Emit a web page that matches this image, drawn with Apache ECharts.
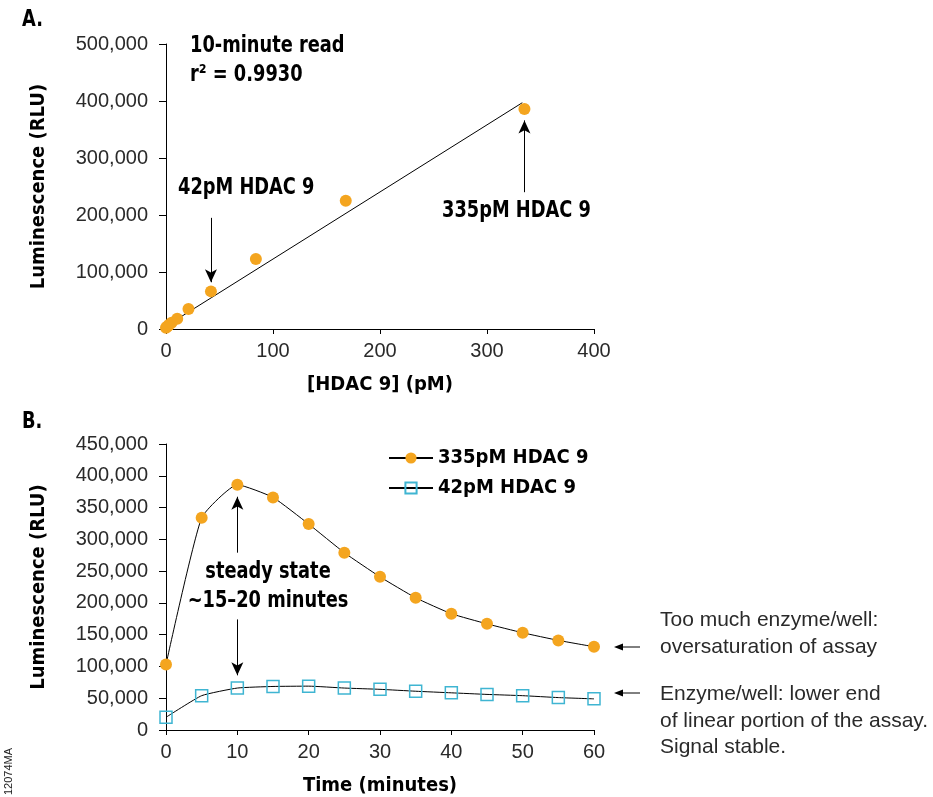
<!DOCTYPE html>
<html>
<head>
<meta charset="utf-8">
<script src="https://cdn.jsdelivr.net/npm/echarts@6/dist/echarts.min.js"></script>
<style>
  html, body { margin: 0; padding: 0; background: #fff; }
  #main { width: 933px; height: 797px; }
</style>
</head>
<body>
<div id="main"></div>
<script>
// panel A: 10-minute read, HDAC 9 titration
var concA = [0, 1.3, 2.6, 5.2, 10.5, 21, 42, 84, 168, 335];
var lumA = [2000, 4500, 7000, 11000, 18000, 35000, 66000, 123000, 225000, 386000];
var fitX = [0, 333];
var fitY = [5000, 397000];

// panel B: time course
var timeB = [0, 5, 10, 15, 20, 25, 30, 35, 40, 45, 50, 55, 60];
var high335 = [103000, 334000, 386000, 366000, 324000, 279000, 241000, 208000, 183000, 167000, 153000, 141000, 131000];
var low42 = [20000, 54000, 66000, 68500, 69000, 66000, 64000, 61000, 58500, 56000, 54000, 51000, 49000];

var seriesNames = ['335pM HDAC 9', '42pM HDAC 9'];

// annotation arrows [x, yFrom, yTo]
var arrowsA = [[42, 195000, 82000], [335, 240000, 366000]];
var arrowsB = [[10, 279000, 367000], [10, 174000, 86000]];

var ORANGE = '#f4a51f';
var BLUE = '#3fb5d2';
var BOLD = '"DejaVu Sans Condensed", "Liberation Sans Narrow", sans-serif';
var THIN = '"Liberation Sans", Arial, sans-serif';

var myChart = echarts.init(document.getElementById('main'));

function comma(v) { return v.toLocaleString('en-US'); }

function toArrowLines(list) {
  return list.map(function (a) {
    return [{coord: [a[0], a[1]]}, {coord: [a[0], a[2]]}];
  });
}

function pairs(xs, ys) {
  return xs.map(function (x, i) { return [x, ys[i]]; });
}

var labelStyle = {color: '#2a2a2a', fontFamily: THIN, fontSize: 20};
var nameStyle = {color: '#000', fontFamily: BOLD, fontWeight: 'bold', fontSize: 20};
var lineBlack = {lineStyle: {color: '#000', width: 1}};

function xAx(grid, max, step, name) {
  return {
    gridIndex: grid, type: 'value', min: 0, max: max, interval: step,
    name: name, nameLocation: 'middle', nameGap: 46, nameTextStyle: nameStyle,
    axisLine: lineBlack, splitLine: {show: false},
    axisTick: {show: true, length: 5, lineStyle: {color: '#000'}},
    axisLabel: Object.assign({margin: 12}, labelStyle)
  };
}

function yAx(grid, max, step) {
  return {
    gridIndex: grid, type: 'value', min: 0, max: max, interval: step,
    name: 'Luminescence (RLU)', nameLocation: 'middle', nameGap: 117, nameTextStyle: nameStyle,
    axisLine: lineBlack, splitLine: {show: false},
    axisTick: {show: true, length: 7, lineStyle: {color: '#000'}},
    axisLabel: Object.assign({margin: 18, formatter: comma}, labelStyle)
  };
}

var arrowMark = {
  silent: true,
  symbol: ['none', 'arrow'],
  symbolSize: [9, 13],
  label: {show: false},
  lineStyle: {color: '#000', width: 1, type: 'solid'}
};

// tall condensed bold text, squeezed horizontally
var bold = 'bold 23px ' + BOLD;
var thin = '21px ' + THIN;
function boldText(x, y, txt, align) {
  return {
    type: 'text', x: x, y: y, scaleX: 0.86,
    style: {text: txt, font: bold, fill: '#000', align: align || 'left', verticalAlign: 'middle'}
  };
}

option = {
  animation: false,
  grid: [
    {left: 166, top: 44, width: 428, height: 285},
    {left: 166, top: 444, width: 428, height: 286.5}
  ],
  legend: {
    data: seriesNames,
    orient: 'vertical',
    left: 383,
    top: 443,
    itemGap: 10,
    itemWidth: 44,
    itemHeight: 14,
    textStyle: {color: '#000', fontFamily: BOLD, fontWeight: 'bold', fontSize: 20}
  },
  xAxis: [xAx(0, 400, 100, '[HDAC 9] (pM)'), xAx(1, 60, 10, 'Time (minutes)')],
  yAxis: [yAx(0, 500000, 100000), yAx(1, 450000, 50000)],
  series: [
    {
      name: 'fit', type: 'line', xAxisIndex: 0, yAxisIndex: 0,
      data: pairs(fitX, fitY), showSymbol: false, silent: true,
      lineStyle: {color: '#000', width: 1}, z: 1
    },
    {
      name: 'points', type: 'scatter', xAxisIndex: 0, yAxisIndex: 0,
      data: pairs(concA, lumA), symbol: 'circle', symbolSize: 12,
      itemStyle: {color: ORANGE, opacity: 1}, z: 3,
      markLine: Object.assign({}, arrowMark, {data: toArrowLines(arrowsA)})
    },
    {
      name: seriesNames[0], type: 'line', xAxisIndex: 1, yAxisIndex: 1,
      data: pairs(timeB, high335), smooth: 0.15,
      symbol: 'circle', symbolSize: 12, showSymbol: true,
      lineStyle: {color: '#000', width: 1},
      itemStyle: {color: ORANGE, borderWidth: 0},
      markLine: Object.assign({}, arrowMark, {data: toArrowLines(arrowsB)})
    },
    {
      name: seriesNames[1], type: 'line', xAxisIndex: 1, yAxisIndex: 1,
      data: pairs(timeB, low42), smooth: 0.15,
      symbol: 'rect', symbolSize: 12, showSymbol: true,
      lineStyle: {color: '#000', width: 1},
      itemStyle: {color: 'rgba(255,255,255,0)', borderColor: BLUE, borderWidth: 1.5}
    }
  ],
  graphic: [
    boldText(22, 20, 'A.'),
    boldText(22, 422, 'B.'),
    boldText(190, 46, '10-minute read'),
    boldText(190, 75, 'r² = 0.9930'),
    boldText(178, 188, '42pM HDAC 9'),
    boldText(442, 211, '335pM HDAC 9'),
    boldText(268, 572, 'steady state', 'center'),
    boldText(268, 601, '~15–20 minutes', 'center'),
    {type: 'text', left: 660, top: 607, style: {text: 'Too much enzyme/well:\noversaturation of assay', font: thin, fill: '#2a2a2a', lineHeight: 26.5}},
    {type: 'text', left: 660, top: 681, style: {text: 'Enzyme/well: lower end\nof linear portion of the assay.\nSignal stable.', font: thin, fill: '#2a2a2a', lineHeight: 26.5}},
    {type: 'line', shape: {x1: 640, y1: 647, x2: 618, y2: 647}, style: {stroke: '#000', lineWidth: 1}},
    {type: 'polygon', shape: {points: [[614, 647], [623, 643.5], [623, 650.5]]}, style: {fill: '#000'}},
    {type: 'line', shape: {x1: 640, y1: 693, x2: 618, y2: 693}, style: {stroke: '#000', lineWidth: 1}},
    {type: 'polygon', shape: {points: [[614, 693], [623, 689.5], [623, 696.5]]}, style: {fill: '#000'}},
    {type: 'text', x: 3, y: 795, rotation: Math.PI / 2, style: {text: '12074MA', font: '11px ' + THIN, fill: '#222'}}
  ]
};

myChart.setOption(option);
</script>
</body>
</html>
